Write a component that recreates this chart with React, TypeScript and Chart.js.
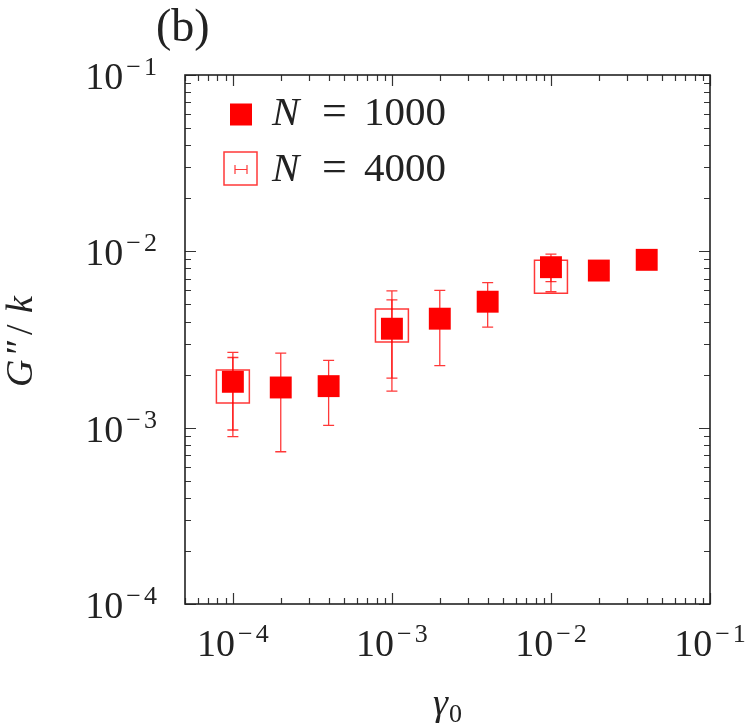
import React, { useEffect, useRef } from "react";
import { Chart, registerables } from "chart.js";

Chart.register(...registerables);

// ---- data ----
const gamma1000 = [1e-4, 2e-4, 4e-4, 1e-3, 2e-3, 4e-3, 1e-2, 2e-2, 4e-2];
const g1000 = [1.82e-3, 1.69e-3, 1.72e-3, 3.64e-3, 4.15e-3, 5.18e-3, 8.13e-3, 7.78e-3, 8.95e-3];
const low1000 = [0.97e-3, 0.73e-3, 1.03e-3, 1.61e-3, 2.25e-3, 3.72e-3, 6.74e-3, 7.2e-3, 8.4e-3];
const high1000 = [2.67e-3, 2.65e-3, 2.41e-3, 5.97e-3, 6.0e-3, 6.64e-3, 9.64e-3, 8.4e-3, 9.5e-3];

const gamma4000 = [1e-4, 1e-3, 1e-2];
const g4000 = [1.71e-3, 3.8e-3, 7.18e-3];
const low4000 = [0.89e-3, 1.91e-3, 5.9e-3];
const high4000 = [2.5e-3, 5.31e-3, 8.6e-3];

const xDecades = [-4, -3, -2, -1];
const yDecades = [-4, -3, -2, -1];
const xMin = 5e-5;
const xMax = 1e-1;
const yMin = 1e-4;
const yMax = 1e-1;

const FONT = "\"Liberation Serif\", \"Times New Roman\", Tinos, Times, serif";
const TEXT = "#222";
const RED = "#ff0000";
const RED_LIGHT = "rgba(255,0,0,0.78)";

const decorPlugin = {
  id: "decor",
  beforeDatasetsDraw(chart: any) {
    const ctx = chart.ctx;
    const xs = chart.scales.x;
    const ys = chart.scales.y;
    ctx.save();
    ctx.strokeStyle = RED_LIGHT;
    ctx.lineWidth = 1.3;
    const cap = 5.5;
    const drawBars = (xv: number[], lo: number[], hi: number[]) => {
      xv.forEach((x, i) => {
        const px = xs.getPixelForValue(x);
        const pl = ys.getPixelForValue(lo[i]);
        const ph = ys.getPixelForValue(hi[i]);
        ctx.beginPath();
        ctx.moveTo(px, pl);
        ctx.lineTo(px, ph);
        ctx.moveTo(px - cap, pl);
        ctx.lineTo(px + cap, pl);
        ctx.moveTo(px - cap, ph);
        ctx.lineTo(px + cap, ph);
        ctx.stroke();
      });
    };
    drawBars(gamma4000, low4000, high4000);
    drawBars(gamma1000, low1000, high1000);
    ctx.restore();
  },
  afterDraw(chart: any) {
    const ctx = chart.ctx;
    const xs = chart.scales.x;
    const ys = chart.scales.y;
    const { left, right, top, bottom } = chart.chartArea;
    ctx.save();

    // ticks
    ctx.strokeStyle = "#333";
    ctx.lineWidth = 1.2;
    const major = 11;
    const minor = 6;
    ctx.beginPath();
    for (let e = -5; e <= -1; e++) {
      for (let m = 1; m <= 9; m++) {
        const v = m * Math.pow(10, e);
        if (v < xMin * 0.999 || v > xMax * 1.001) continue;
        const px = Math.round(xs.getPixelForValue(v)) + 0.5;
        const len = m === 1 ? major : minor;
        ctx.moveTo(px, bottom);
        ctx.lineTo(px, bottom - len);
        ctx.moveTo(px, top);
        ctx.lineTo(px, top + len);
      }
    }
    for (let e = -4; e <= -1; e++) {
      for (let m = 1; m <= 9; m++) {
        const v = m * Math.pow(10, e);
        if (v < yMin * 0.999 || v > yMax * 1.001) continue;
        const py = Math.round(ys.getPixelForValue(v)) + 0.5;
        const len = m === 1 ? major : minor;
        ctx.moveTo(left, py);
        ctx.lineTo(left + len, py);
        ctx.moveTo(right, py);
        ctx.lineTo(right - len, py);
      }
    }
    ctx.stroke();

    // frame
    ctx.strokeStyle = "#222";
    ctx.lineWidth = 1.6;
    ctx.strokeRect(left, top, right - left, bottom - top);

    // tick labels: "10" + superscript "−n"
    ctx.fillStyle = TEXT;
    ctx.textBaseline = "alphabetic";
    const bigF = `38px ${FONT}`;
    const supF = `26px ${FONT}`;
    const measure = (d: number) => {
      ctx.font = bigF;
      const w10 = ctx.measureText("10").width;
      ctx.font = supF;
      const wm = ctx.measureText("\u2212").width;
      const wd = ctx.measureText(String(Math.abs(d))).width;
      return { w10, wm, wd, total: w10 + 3 + wm + 3 + wd };
    };
    const drawPow = (d: number, x0: number, base: number, supBase: number) => {
      const m = measure(d);
      ctx.textAlign = "left";
      ctx.font = bigF;
      ctx.fillText("10", x0, base);
      ctx.font = supF;
      ctx.fillText("\u2212", x0 + m.w10 + 3, supBase);
      ctx.fillText(String(Math.abs(d)), x0 + m.w10 + 3 + m.wm + 3, supBase);
    };
    xDecades.forEach((d) => {
      const px = xs.getPixelForValue(Math.pow(10, d));
      const m = measure(d);
      drawPow(d, px - m.total / 2, 656, 642);
    });
    yDecades.forEach((d) => {
      const py = ys.getPixelForValue(Math.pow(10, d));
      const m = measure(d);
      drawPow(d, 157 - m.total, py + 14, py);
    });

    // panel label
    ctx.textAlign = "left";
    ctx.font = `46px ${FONT}`;
    ctx.fillText("(b)", 156, 41);

    // y axis title  G''/k (rotated)
    ctx.save();
    ctx.translate(32, 387);
    ctx.rotate(-Math.PI / 2);
    ctx.textAlign = "left";
    ctx.font = `italic 38px ${FONT}`;
    ctx.fillText("G", 0, 0);
    ctx.fillText("\u2033", 30, 0);
    ctx.font = `38px ${FONT}`;
    ctx.fillText("/", 52, 0);
    ctx.font = `italic 38px ${FONT}`;
    ctx.fillText("k", 74, 0);
    ctx.restore();

    // x axis title
    ctx.textAlign = "left";
    ctx.font = `italic 38px ${FONT}`;
    const gw = ctx.measureText("\u03b3").width;
    ctx.font = `26px ${FONT}`;
    const zw = ctx.measureText("0").width;
    const cx = (left + right) / 2;
    const gs = cx - (gw + zw + 1) / 2;
    ctx.font = `italic 38px ${FONT}`;
    ctx.fillText("\u03b3", gs, 715);
    ctx.font = `26px ${FONT}`;
    ctx.fillText("0", gs + gw + 1, 722);

    // legend
    ctx.fillStyle = RED;
    ctx.fillRect(230, 103.5, 22, 22);
    ctx.strokeStyle = RED_LIGHT;
    ctx.lineWidth = 1.5;
    ctx.strokeRect(224, 152, 33, 33);
    ctx.lineWidth = 1.2;
    ctx.beginPath();
    ctx.moveTo(235, 169.5);
    ctx.lineTo(247, 169.5);
    ctx.moveTo(235, 165);
    ctx.lineTo(235, 174);
    ctx.moveTo(247, 165);
    ctx.lineTo(247, 174);
    ctx.stroke();

    ctx.fillStyle = TEXT;
    const legendText = (num: string, base: number) => {
      ctx.font = `italic 41px ${FONT}`;
      ctx.fillText("N", 272, base);
      ctx.font = `44px ${FONT}`;
      ctx.fillText("=", 322, base);
      ctx.font = `41px ${FONT}`;
      ctx.fillText(num, 364, base);
    };
    legendText("1000", 125);
    legendText("4000", 181);

    ctx.restore();
  },
};

export default function App() {
  const ref = useRef<HTMLCanvasElement | null>(null);
  useEffect(() => {
    document.body.style.margin = "0";
    if (!ref.current) return;
    const chart = new Chart(ref.current, {
      type: "scatter",
      data: {
        datasets: [
          {
            label: "N = 1000",
            data: gamma1000.map((x, i) => ({ x, y: g1000[i] })),
            pointStyle: "rect",
            pointRadius: 15.5,
            pointHoverRadius: 15.5,
            backgroundColor: RED,
            borderColor: RED,
            borderWidth: 0,
          },
          {
            label: "N = 4000",
            data: gamma4000.map((x, i) => ({ x, y: g4000[i] })),
            pointStyle: "rect",
            pointRadius: 23.3,
            pointHoverRadius: 23.3,
            backgroundColor: "rgba(0,0,0,0)",
            borderColor: RED_LIGHT,
            borderWidth: 1.5,
          },
        ],
      },
      options: {
        animation: false,
        responsive: true,
        maintainAspectRatio: false,
        layout: { padding: { left: 185, right: 37, top: 75, bottom: 123 } },
        plugins: {
          legend: { display: false },
          tooltip: { enabled: false },
        },
        scales: {
          x: {
            type: "logarithmic",
            min: xMin,
            max: xMax,
            ticks: { display: false },
            grid: { display: false, drawTicks: false },
            border: { display: false },
          },
          y: {
            type: "logarithmic",
            min: yMin,
            max: yMax,
            ticks: { display: false },
            grid: { display: false, drawTicks: false },
            border: { display: false },
          },
        },
      },
      plugins: [decorPlugin],
    });
    return () => chart.destroy();
  }, []);
  return (
    <div style={{ position: "relative", width: 747, height: 727 }}>
      <canvas ref={ref} />
    </div>
  );
}
